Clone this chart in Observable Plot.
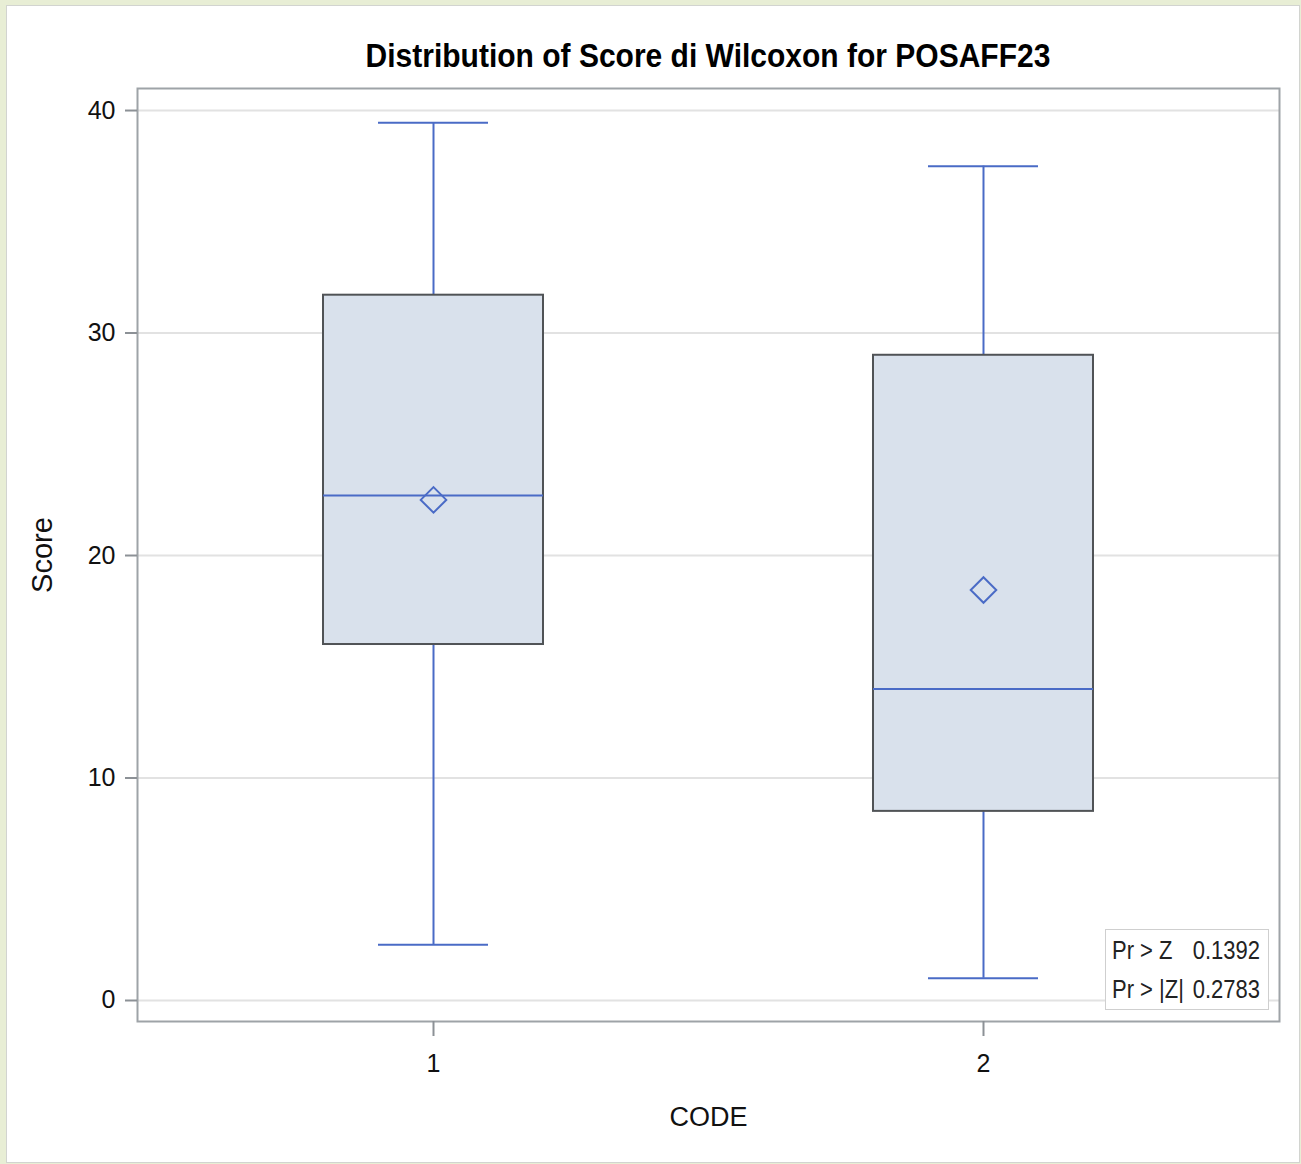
<!DOCTYPE html>
<html>
<head>
<meta charset="utf-8">
<script src="https://cdn.jsdelivr.net/npm/d3@7"></script>
<script src="https://cdn.jsdelivr.net/npm/@observablehq/plot@0.6"></script>
<style>
  html, body { margin: 0; padding: 0; }
  body { width: 1301px; height: 1164px; background: #e8eed5; position: relative; overflow: hidden;
         font-family: "Liberation Sans", Arial, sans-serif; }
  #panel { position: absolute; left: 6px; top: 5px; width: 1292px; height: 1156px;
           background: #ffffff; border: 1px solid #d2d4d0; }
  #title { position: relative; height: 64px; }
  #title span { position: absolute; left: 701px; top: 35px; transform: translateX(-50%) scaleY(1.12);
                font-size: 30px; line-height: 30px; font-weight: bold; color: #000; white-space: nowrap; }
  #chart { position: relative; }
  #stats { position: absolute; left: 1098px; top: 859px; width: 162px; height: 79px;
           border: 1px solid #cfcfcf; background: #fff; font-size: 22px; color: #222; }
  #stats .row { position: absolute; left: 6px; right: 8px; height: 24px; line-height: 24px; transform: scaleY(1.15); }
  #stats .row .v { position: absolute; right: 0; top: 0; }
</style>
</head>
<body>
<div id="panel">
  <div id="title"><span>Distribution of Score di Wilcoxon for POSAFF23</span></div>
  <div id="chart"></div>
</div>
<script>
// ---- data ----
const codes       = [1, 2];
const whiskerLow  = [2.5, 1.0];
const q1          = [16.0, 8.5];
const median      = [22.7, 14.0];
const q3          = [31.7, 29.0];
const whiskerHigh = [39.45, 37.5];
const mean        = [22.5, 18.45];
const yTicks      = [0, 10, 20, 30, 40];
const xTicks      = [1, 2];
const statLabels  = ["Pr > Z", "Pr > |Z|"];
const statValues  = ["0.1392", "0.2783"];

const data = codes.map((c, i) => ({
  code: c, low: whiskerLow[i], q1: q1[i], med: median[i], q3: q3[i], high: whiskerHigh[i], mean: mean[i]
}));

const boxHalf = 0.2, capHalf = 0.1;
const blue = "#4a6bc6";

const chart = Plot.plot({
  width: 1292,
  height: 1090,
  marginTop: 18,
  marginBottom: 139,
  marginLeft: 130,
  marginRight: 20,
  style: { fontFamily: "Liberation Sans, Arial, sans-serif", fontSize: "25px", color: "#111", background: "transparent" },
  x: { domain: [1 - 0.5382, 2 + 0.5382], axis: null },
  y: { domain: [-0.944, 40.99], axis: null },
  marks: [
    Plot.gridY(yTicks, { stroke: "#e2e2e2", strokeOpacity: 1, strokeWidth: 2 }),
    // whiskers
    Plot.ruleX(data, { x: "code", y1: "low", y2: "q1", stroke: blue, strokeWidth: 2 }),
    Plot.ruleX(data, { x: "code", y1: "q3", y2: "high", stroke: blue, strokeWidth: 2 }),
    Plot.ruleY(data, { y: "low", x1: d => d.code - capHalf, x2: d => d.code + capHalf, stroke: blue, strokeWidth: 2 }),
    Plot.ruleY(data, { y: "high", x1: d => d.code - capHalf, x2: d => d.code + capHalf, stroke: blue, strokeWidth: 2 }),
    // box
    Plot.rect(data, { x1: d => d.code - boxHalf, x2: d => d.code + boxHalf, y1: "q1", y2: "q3",
                      fill: "#d9e1ec", stroke: "#505356", strokeWidth: 2 }),
    // median
    Plot.ruleY(data, { y: "med", x1: d => d.code - boxHalf, x2: d => d.code + boxHalf, stroke: blue, strokeWidth: 2 }),
    // mean
    Plot.dot(data, { x: "code", y: "mean", symbol: "diamond2", r: 11.5, stroke: blue, strokeWidth: 2, fill: "none" }),
    Plot.frame({ stroke: "#9ea3a7", strokeWidth: 2 }),
    Plot.axisY(yTicks, { tickSize: 12, tickPadding: 10, stroke: "#8c9196", strokeWidth: 2, fontSize: 25, label: null, fill: "#111" }),
    Plot.axisX(xTicks, { tickSize: 15, tickPadding: 18, stroke: "#8c9196", strokeWidth: 2, fontSize: 25, label: null, fill: "#111", tickFormat: d => String(d) }),
    Plot.text(["CODE"], { frameAnchor: "bottom", dy: 104, fontSize: 27, fill: "#111" }),
    Plot.text(["Score"], { frameAnchor: "left", textAnchor: "middle", dx: -95, rotate: -90, fontSize: 29, fill: "#111" })
  ]
});
const holder = document.getElementById("chart");
holder.appendChild(chart);

const stats = document.createElement("div");
stats.id = "stats";
statLabels.forEach((lab, i) => {
  const row = document.createElement("div");
  row.className = "row";
  row.style.top = (9 + i * 39) + "px";
  row.textContent = lab;
  const v = document.createElement("span");
  v.className = "v";
  v.textContent = statValues[i];
  row.appendChild(v);
  stats.appendChild(row);
});
holder.appendChild(stats);
</script>
</body>
</html>
